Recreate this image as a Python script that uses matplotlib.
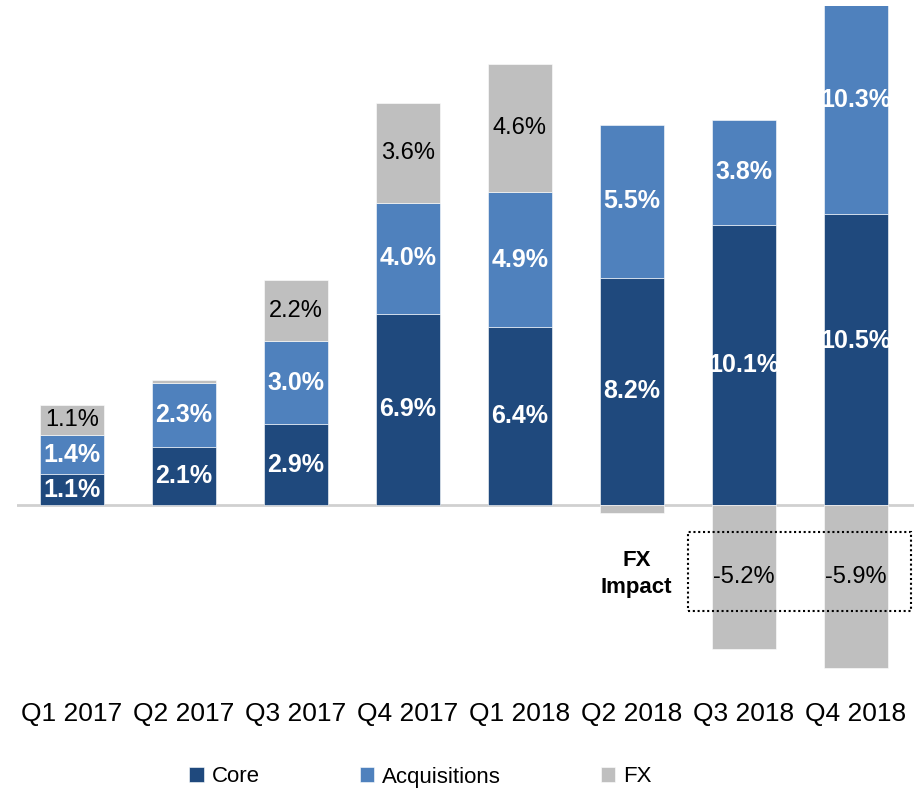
import numpy as np
import matplotlib.pyplot as plt
from matplotlib.patches import Rectangle

# quarterly growth split into core, acquisitions and currency effect (%)
quarters = ["Q1 2017", "Q2 2017", "Q3 2017", "Q4 2017",
            "Q1 2018", "Q2 2018", "Q3 2018", "Q4 2018"]
core = [1.1, 2.1, 2.9, 6.9, 6.4, 8.2, 10.1, 10.5]
acquisitions = [1.4, 2.3, 3.0, 4.0, 4.9, 5.5, 3.8, 10.3]
fx = [1.1, 0.1, 2.2, 3.6, 4.6, -0.3, -5.2, -5.9]

c_core = "#1F497D"
c_acq = "#4F81BD"
c_fx = "#BFBFBF"

plt.rcParams["font.family"] = ["Liberation Sans", "DejaVu Sans"]

fig = plt.figure(figsize=(9.14, 7.92), dpi=100)
ax = fig.add_axes([17 / 914, 1 - 671 / 792, 1 - 17 / 914 + 0.01, (671 - 6) / 792])

x = np.arange(len(quarters))
w = 0.57
core = np.array(core)
acq = np.array(acquisitions)
fx = np.array(fx)

b_core = ax.bar(x, core, w, color=c_core, edgecolor="white", linewidth=0.4, label="Core")
b_acq = ax.bar(x, acq, w, bottom=core, color=c_acq, edgecolor="white", linewidth=0.4,
               label="Acquisitions")
fx_bottom = np.where(fx > 0, core + acq, 0)
b_fx = ax.bar(x, fx, w, bottom=fx_bottom, color=c_fx, edgecolor="white", linewidth=0.4,
              label="FX")

ax.axhline(0, color="#D0D0D0", lw=2, zorder=0.5)

lab = dict(ha="center", va="center")
for i in range(len(x)):
    y_core = core[i] / 2
    y_acq = core[i] + acq[i] / 2
    if i == len(x) - 1:
        # top bar runs off the chart, keep the labels inside the visible part
        y_core = 5.9
        y_acq = 14.6
    t1 = ax.text(x[i], y_core, f"{core[i]:.1f}%", color="white", fontweight="bold",
                 fontsize=18, **lab)
    t2 = ax.text(x[i], y_acq, f"{acq[i]:.1f}%", color="white", fontweight="bold",
                 fontsize=18, **lab)
    if i == len(x) - 1:
        t1.set_clip_path(b_core[i])
        t2.set_clip_path(b_acq[i])
    if fx[i] >= 1:
        ax.text(x[i], core[i] + acq[i] + fx[i] / 2, f"{fx[i]:.1f}%", color="black",
                fontsize=17, **lab)
    elif fx[i] <= -1:
        ax.text(x[i], -2.6, f"{fx[i]:.1f}%", color="black", fontsize=17, **lab)

# FX impact callout
ax.add_patch(Rectangle((5.5, -3.83), 1.99, 2.83, fill=False, ls=(0, (1, 1.3)),
                       lw=1.5, ec="black", zorder=5, clip_on=False))
ax.text(5.04, -2.5, "FX\nImpact", ha="center", va="center", fontsize=16,
        fontweight="bold", linespacing=1.35)

ax.set_xlim(-0.49, 7.6)
ax.set_ylim(-6.0, 18.0)
ax.set_xticks(x)
ax.set_xticklabels(quarters, fontsize=19)
ax.tick_params(axis="x", length=0, pad=22)
ax.set_yticks([])
for s in ax.spines.values():
    s.set_visible(False)

fig.legend(handles=[b_core, b_acq, b_fx], loc="center", bbox_to_anchor=(0.46, 1 - 777 / 792),
           ncol=3, frameon=False, fontsize=16, handlelength=0.65, handleheight=0.65,
           handletextpad=0.35, columnspacing=4.5)

plt.savefig("out.png", dpi=100)
